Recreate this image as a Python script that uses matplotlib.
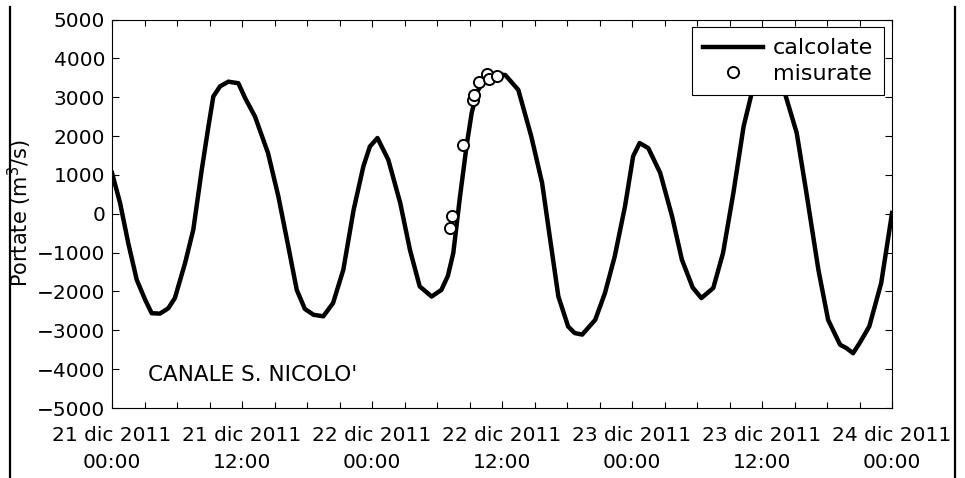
#!/usr/bin/env python3
import matplotlib
matplotlib.use("Agg")
import matplotlib.pyplot as plt
import matplotlib.dates as mdates
from matplotlib.lines import Line2D
import pandas as pd

# portate calcolate (ore dal 21 dic 2011 00:00, m3/s)
calc_hours = [0.0, 0.74, 1.5, 2.28, 3.05, 3.66, 4.43, 5.2, 5.8, 6.74, 7.5,
              8.28, 8.9, 9.35, 9.97, 10.74, 11.66, 12.28, 13.2, 14.4, 15.35,
              16.27, 17.05, 17.8, 18.6, 19.5, 20.4, 21.35, 22.3, 23.2, 23.8,
              24.5, 25.5, 26.6, 27.5, 28.4, 29.5, 30.4, 31.0, 31.5, 32.1,
              32.74, 33.2, 33.66, 34.43, 35.3, 36.3, 37.5, 38.7, 39.7, 40.4,
              41.2, 42.1, 42.7, 43.4, 44.6, 45.5, 46.4, 47.35, 48.1, 48.7,
              49.5, 50.6, 51.7, 52.6, 53.6, 54.4, 55.5, 56.4, 57.35, 58.3,
              59.05, 59.8, 60.6, 61.4, 62.1, 63.2, 64.1, 65.2, 66.1, 67.2,
              67.8, 68.4, 69.0, 69.9, 71.0, 72.0]
calc_flow = [1050, 280, -760, -1700, -2210, -2560, -2570, -2430, -2170, -1270,
             -410, 1130, 2250, 3020, 3280, 3400, 3360, 2980, 2500, 1560, 450,
             -840, -1960, -2450, -2600, -2640, -2300, -1440, 100, 1220, 1730,
             1950, 1390, 280, -930, -1870, -2130, -1960, -1600, -1010, 400,
             1776, 2600, 3106, 3530, 3600, 3570, 3190, 1990, 790, -580,
             -2130, -2900, -3070, -3110, -2730, -2040, -1100, 190, 1480, 1820,
             1690, 1050, -70, -1180, -1900, -2170, -1910, -1010, 530, 2250,
             3110, 3550, 3700, 3550, 3110, 2080, 530, -1440, -2730, -3370,
             -3460, -3590, -3330, -2900, -1780, 20]

# portate misurate
meas_hours = [31.20, 31.36, 32.43, 33.30, 33.42, 33.91, 34.59, 34.80, 35.51]
meas_flow = [-370, -70, 1780, 2930, 3045, 3380, 3600, 3475, 3535]

tick_labels = ["21 dic 2011\n00:00", "21 dic 2011\n12:00",
               "22 dic 2011\n00:00", "22 dic 2011\n12:00",
               "23 dic 2011\n00:00", "23 dic 2011\n12:00",
               "24 dic 2011\n00:00"]
tick_hours = [0, 12, 24, 36, 48, 60, 72]
y_ticks = list(range(-5000, 5001, 1000))

start = pd.Timestamp("2011-12-21 00:00")


def to_time(hours):
    return start + pd.to_timedelta(hours, unit="h")


fig = plt.figure(figsize=(9.65, 4.78), dpi=100)
ax = fig.add_axes([0.1161, 0.1464, 0.8083, 0.8128])

ax.plot(to_time(calc_hours), calc_flow, color="black", lw=3.2,
        solid_joinstyle="round", label="calcolate", zorder=2)
ax.plot(to_time(meas_hours), meas_flow, "o", mfc="white", mec="black",
        mew=1.4, ms=8, label="misurate", zorder=3)

ax.set_xlim(to_time(0), to_time(72))
ax.set_ylim(-5000, 5000)
ax.set_yticks(y_ticks)
ax.set_xticks(to_time(tick_hours))
ax.set_xticklabels(tick_labels, linespacing=1.55)
ax.xaxis.set_minor_locator(mdates.HourLocator(byhour=range(0, 24, 3)))

ax.tick_params(which="both", direction="in", top=True, right=True,
               labelsize=14.5, width=0.8)
ax.tick_params(which="major", length=5)
ax.tick_params(which="minor", length=4)
ax.tick_params(axis="x", pad=13)
ax.tick_params(axis="y", pad=5)
for sp in ax.spines.values():
    sp.set_linewidth(0.8)

ax.set_ylabel("Portate (m$^3$/s)", fontsize=15, labelpad=2)

ax.text(0.046, 0.085, "CANALE S. NICOLO'", transform=ax.transAxes,
        fontsize=15.5, va="center", ha="left")

leg = ax.legend(loc="upper right", fontsize=16, frameon=True,
                fancybox=False, edgecolor="black", framealpha=1,
                borderaxespad=0.35, handlelength=2.7, handletextpad=0.45,
                borderpad=0.5, labelspacing=0.25)
leg.get_frame().set_linewidth(0.8)

# bordi verticali della scansione
fig.add_artist(Line2D([10 / 965, 10 / 965], [0, 1 - 7 / 478],
                      color="black", lw=1.6))
fig.add_artist(Line2D([955 / 965, 955 / 965], [0, 1 - 7 / 478],
                      color="black", lw=1.6))

fig.savefig("out.png", dpi=100)
